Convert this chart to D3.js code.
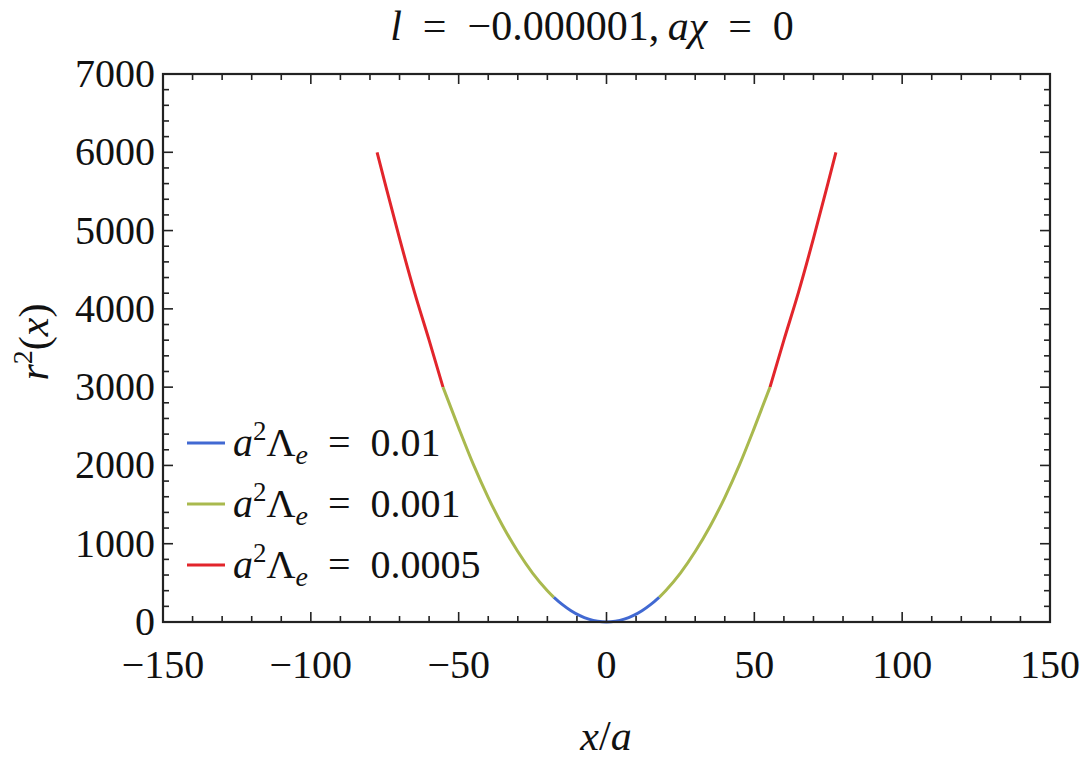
<!DOCTYPE html>
<html><head><meta charset="utf-8">
<script src="https://cdn.jsdelivr.net/npm/d3@7"></script>
</head><body style="margin:0">
<svg id="c" width="1080" height="768"></svg>
<script>
// Data
const xTicks = [-150, -100, -50, 0, 50, 100, 150];
const yTicks = [0, 1000, 2000, 3000, 4000, 5000, 6000, 7000];
const seriesNames = ["0.01", "0.001", "0.0005"];
const seriesColors = ["#4169d2", "#a9b94e", "#e2252b"];
// a^2 Λe = 0.01  (visible segment around the minimum)
const blueX = [-17.8, -15, -12, -9, -6, -3, 0, 3, 6, 9, 12, 15, 17.8];
const blueY = [315, 225, 144, 81, 36, 9, 0, 9, 36, 81, 144, 225, 315];
// a^2 Λe = 0.001  (left and right segments, null = gap)
const greenX = [-55.3, -50, -45, -40, -35, -30, -25, -20, -17.8, null, 17.8, 20, 25, 30, 35, 40, 45, 50, 55.3];
const greenY = [3000, 2480, 2010, 1590, 1220, 900, 625, 400, 315, null, 315, 400, 625, 900, 1220, 1590, 2010, 2480, 3000];
// a^2 Λe = 0.0005 (left and right segments)
const redX = [-77.6, -75, -70, -65, -60, -55.3, null, 55.3, 60, 65, 70, 75, 77.6];
const redY = [6000, 5620, 4900, 4220, 3600, 3000, null, 3000, 3600, 4220, 4900, 5620, 6000];

const FONT = "'Liberation Serif'";
const svg = d3.select("#c");
const L = 163, R = 1050, T = 74, B = 622;
const x = d3.scaleLinear().domain([-150, 150]).range([L, R]);
const y = d3.scaleLinear().domain([0, 7000]).range([B, T]);

const series = [
  {color: seriesColors[2], xs: redX, ys: redY},
  {color: seriesColors[1], xs: greenX, ys: greenY},
  {color: seriesColors[0], xs: blueX, ys: blueY}
];
const line = d3.line().defined(d => d[0] !== null)
  .x(d => x(d[0])).y(d => y(d[1])).curve(d3.curveMonotoneX);
const g = svg.append("g");
series.forEach(s => {
  g.append("path").datum(d3.zip(s.xs, s.ys)).attr("d", line)
   .attr("fill", "none").attr("stroke", s.color).attr("stroke-width", 3);
});

// ticks (inward on all sides)
const ax = svg.append("g").attr("stroke", "#222").attr("stroke-width", 1.6);
const xMinor = d3.range(-150, 151, 10), yMinor = d3.range(0, 7001, 200);
xMinor.forEach(v => {
  const len = v % 50 === 0 ? 10 : 6;
  ax.append("line").attr("x1", x(v)).attr("x2", x(v)).attr("y1", B).attr("y2", B - len);
  ax.append("line").attr("x1", x(v)).attr("x2", x(v)).attr("y1", T).attr("y2", T + len);
});
yMinor.forEach(v => {
  const len = v % 1000 === 0 ? 10 : 6;
  ax.append("line").attr("y1", y(v)).attr("y2", y(v)).attr("x1", L).attr("x2", L + len);
  ax.append("line").attr("y1", y(v)).attr("y2", y(v)).attr("x1", R).attr("x2", R - len);
});
svg.append("rect").attr("x", L).attr("y", T).attr("width", R - L).attr("height", B - T)
  .attr("fill", "none").attr("stroke", "#222").attr("stroke-width", 2.2);

const txt = (sel) => sel.append("text").attr("fill", "#111")
  .attr("font-family", "Liberation Serif").style("font-family", FONT, "important");

// tick labels
const fs = 40;
xTicks.forEach(v => {
  txt(svg).attr("x", x(v)).attr("y", 678).attr("text-anchor", "middle")
    .attr("font-size", fs).text(v < 0 ? "\u2212" + Math.abs(v) : String(v));
});
yTicks.forEach(v => {
  txt(svg).attr("x", 155).attr("y", y(v) + 13).attr("text-anchor", "end")
    .attr("font-size", fs).text(String(v));
});

// title (math-style spacing around "=")
const t = txt(svg).attr("x", 592).attr("y", 40).attr("text-anchor", "middle").attr("font-size", 42);
t.append("tspan").attr("font-style", "italic").text("l");
t.append("tspan").text("\u2002=\u2002\u22120.000001,\u2009");
t.append("tspan").attr("font-style", "italic").text("a\u03C7");
t.append("tspan").text("\u2002=\u20020");

// axis labels
const xl = txt(svg).attr("x", 606).attr("y", 750).attr("text-anchor", "middle").attr("font-size", 42);
xl.append("tspan").attr("font-style", "italic").text("x");
xl.append("tspan").text("/");
xl.append("tspan").attr("font-style", "italic").text("a");

const yl = txt(svg).attr("transform", "translate(48,342) rotate(-90)").attr("text-anchor", "middle").attr("font-size", 42);
yl.append("tspan").attr("font-style", "italic").text("r");
yl.append("tspan").attr("font-size", 28).attr("dy", -16).text("2");
yl.append("tspan").attr("dy", 16).text("(");
yl.append("tspan").attr("font-style", "italic").text("x");
yl.append("tspan").text(")");

// legend
const legY = [443, 504, 565];
[0, 1, 2].forEach(i => {
  const yy = legY[i];
  svg.append("line").attr("x1", 187).attr("x2", 225).attr("y1", yy).attr("y2", yy)
    .attr("stroke", seriesColors[i]).attr("stroke-width", 3);
  const tx = txt(svg).attr("x", 233).attr("y", yy + 13).attr("font-size", 40);
  tx.append("tspan").attr("font-style", "italic").text("a");
  tx.append("tspan").attr("font-size", 27).attr("dy", -16).text("2");
  tx.append("tspan").attr("dy", 16).text("\u039B");
  tx.append("tspan").attr("font-style", "italic").attr("font-size", 28).attr("dy", 8).text("e");
  tx.append("tspan").attr("dy", -8).text("\u2002=\u2002" + seriesNames[i]);
});
</script>
</body></html>
